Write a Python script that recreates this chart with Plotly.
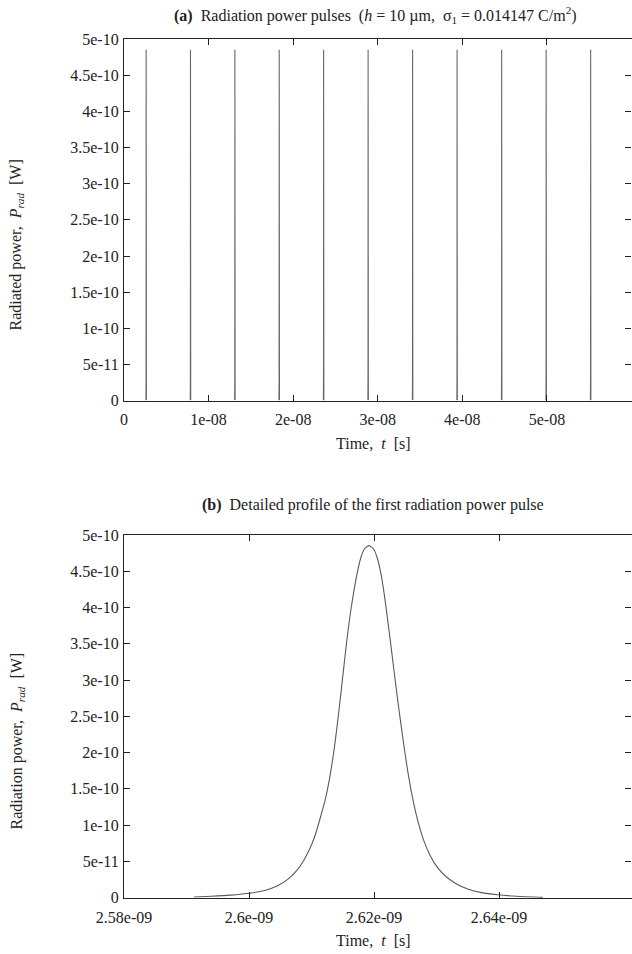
import plotly.graph_objects as go

# ---------------- data ----------------
# Panel (a): peak times [s] and peak powers [W] of the 11 pulses
pulse_peak_times = [2.62e-9, 7.86e-9, 1.311e-8, 1.835e-8, 2.360e-8, 2.886e-8,
                    3.412e-8, 3.938e-8, 4.465e-8, 4.991e-8, 5.517e-8]
pulse_peak_power = [4.85e-10, 4.85e-10, 4.85e-10, 4.85e-10, 4.85e-10, 4.85e-10,
                    4.85e-10, 4.85e-10, 4.85e-10, 4.85e-10, 4.85e-10]

# Panel (b): detailed profile of the first pulse (time in ps, power in W)
profile_time_ps = [2591.2, 2594.0, 2597.0, 2600.3, 2602.5, 2604.5, 2606.3, 2607.7,
                   2608.8, 2609.7, 2610.5, 2611.5, 2612.3, 2613.0, 2613.75, 2614.4,
                   2615.0, 2615.6, 2616.3, 2617.2, 2617.9, 2618.5, 2619.2,
                   2619.9, 2620.5, 2621.2, 2621.9, 2622.6, 2623.3, 2624.0, 2624.7,
                   2625.5, 2626.3, 2627.1, 2628.0, 2629.0, 2630.2, 2631.6, 2633.2,
                   2635.0, 2637.2, 2639.8, 2642.8, 2647.0]
profile_power = [0.10e-11, 0.20e-11, 0.35e-11, 0.65e-11, 1.0e-11, 1.6e-11, 2.6e-11, 3.8e-11,
                 5.2e-11, 6.7e-11, 8.4e-11, 11.3e-11, 13.9e-11, 17.0e-11, 21.28e-11, 25.88e-11,
                 30.47e-11, 35.07e-11, 39.66e-11, 44.25e-11, 46.9e-11, 48.1e-11, 48.53e-11,
                 48.1e-11, 46.9e-11, 44.25e-11, 40.2e-11, 35.5e-11, 30.6e-11, 25.88e-11, 21.5e-11,
                 16.9e-11, 13.2e-11, 10.3e-11, 7.8e-11, 5.8e-11, 4.1e-11, 2.85e-11, 1.9e-11,
                 1.2e-11, 0.7e-11, 0.4e-11, 0.2e-11, 0.05e-11]

# Tick values / labels
top_x_ticks = [0, 1e-8, 2e-8, 3e-8, 4e-8, 5e-8]
top_x_labels = ["0", "1e-08", "2e-08", "3e-08", "4e-08", "5e-08"]
bot_x_ticks = [2.58e-9, 2.60e-9, 2.62e-9, 2.64e-9]
bot_x_labels = ["2.58e-09", "2.6e-09", "2.62e-09", "2.64e-09"]
y_ticks = [0, 5e-11, 1e-10, 1.5e-10, 2e-10, 2.5e-10, 3e-10, 3.5e-10, 4e-10, 4.5e-10, 5e-10]
y_labels = ["0", "5e-11", "1e-10", "1.5e-10", "2e-10", "2.5e-10", "3e-10",
            "3.5e-10", "4e-10", "4.5e-10", "5e-10"]

# ---------------- layout helpers ----------------
W, H = 632, 954
def px(x):
    return x / W
def py(y):
    return 1 - y / H

FONT = "Liberation Serif"
TXT = "#222222"
LINE = "#5a5a5a"

profile_time = [t * 1e-12 for t in profile_time_ps]

# build panel (a) trace from pulse positions + measured profile shape
i_pk = profile_power.index(max(profile_power))
t_pk = profile_time[i_pk]
p_pk = profile_power[i_pk]
xa, ya = [], []
for tp, pp in zip(pulse_peak_times, pulse_peak_power):
    xa += [t - t_pk + tp for t in profile_time] + [None]
    ya += [p * pp / p_pk for p in profile_power] + [None]

fig = go.Figure()
fig.add_trace(go.Scatter(x=xa, y=ya, mode="lines", xaxis="x", yaxis="y",
                         line=dict(color="#666666", width=1.1), showlegend=False))
fig.add_trace(go.Scatter(x=profile_time, y=profile_power, mode="lines",
                         xaxis="x2", yaxis="y2",
                         line=dict(color=LINE, width=1.1, shape="spline", smoothing=0.6),
                         showlegend=False))

xdom = [px(124), px(631.5)]
ax_common = dict(showline=True, linecolor="#222222", linewidth=1.3, mirror="ticks",
                 ticks="inside", ticklen=6, tickwidth=1, tickcolor="#222222",
                 showgrid=False, zeroline=False, automargin=False,
                 tickfont=dict(family=FONT, size=16, color=TXT))

fig.update_layout(
    width=W, height=H, paper_bgcolor="white", plot_bgcolor="white",
    margin=dict(l=0, r=0, t=0, b=0, pad=0, autoexpand=False),
    xaxis=dict(domain=xdom, anchor="y", range=[0, 6e-8],
               tickvals=top_x_ticks, ticktext=top_x_labels, ticklabelstandoff=4, **ax_common),
    yaxis=dict(domain=[py(400.7), py(39)], anchor="x", range=[0, 5e-10],
               tickvals=y_ticks, ticktext=y_labels, ticklabelstandoff=1, **ax_common),
    xaxis2=dict(domain=xdom, anchor="y2", range=[2.58e-9, 2.6612e-9],
                tickvals=bot_x_ticks, ticktext=bot_x_labels, ticklabelstandoff=5, **ax_common),
    yaxis2=dict(domain=[py(897.7), py(535)], anchor="x2", range=[0, 5e-10],
                tickvals=y_ticks, ticktext=y_labels, ticklabelstandoff=1, **ax_common),
)

def ann(text, x, y, angle=0):
    fig.add_annotation(text=text, x=px(x), y=py(y), xref="paper", yref="paper",
                       xanchor="center", yanchor="middle", showarrow=False,
                       textangle=angle, font=dict(family=FONT, size=16, color=TXT))

ann("<b>(a)</b>&nbsp; Radiation power pulses&nbsp; (<i>h</i> = 10 µm,&nbsp; σ<sub>1</sub> = 0.014147 C/m<sup>2</sup>)",
    376, 15)
ann("<b>(b)</b>&nbsp; Detailed profile of the first radiation power pulse", 373, 505)
ann("Time,&nbsp; <i>t</i>&nbsp; [s]", 373, 443.5)
ann("Time,&nbsp; <i>t</i>&nbsp; [s]", 373, 940)
ann("Radiated power,&nbsp; <i>P<sub>rad</sub></i>&nbsp; [W]", 16.5, 245, -90)
ann("Radiation power,&nbsp; <i>P<sub>rad</sub></i>&nbsp; [W]", 16.5, 741, -90)

fig.write_html("out.html", config={"displayModeBar": False},
               post_script="document.body.style.margin='0px';document.body.style.overflow='hidden';")
